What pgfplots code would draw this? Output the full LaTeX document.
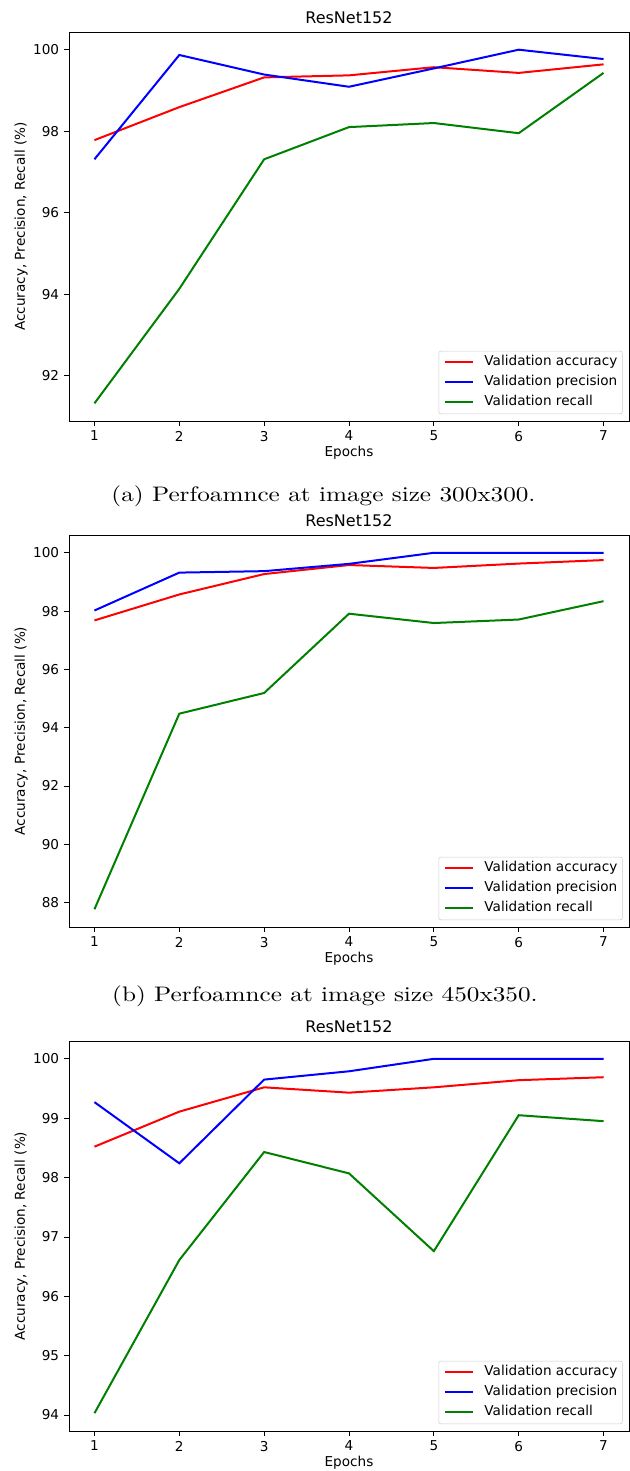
\documentclass[border=0pt]{standalone}
\usepackage{fontspec}
\usepackage{graphicx}
\usepackage{pgfplots}
\pgfplotsset{compat=1.18}
\newfontfamily\plotfont{DejaVu Sans}
\newfontfamily\capfont{lmroman10-regular.otf}

\definecolor{mplred}{RGB}{255,0,0}
\definecolor{mplblue}{RGB}{0,0,255}
\definecolor{mplgreen}{RGB}{0,128,0}

% Validation metrics per epoch, image size 300x300
\pgfplotstableread{
epoch acc   prec  rec
1     97.78 97.31 91.32
2     98.59 99.87 94.13
3     99.32 99.39 97.31
4     99.37 99.09 98.10
5     99.57 99.54 98.20
6     99.43 100.0 97.95
7     99.64 99.77 99.43
}\tabA
% image size 450x350
\pgfplotstableread{
epoch acc   prec  rec
1     97.68 98.02 87.77
2     98.57 99.32 94.48
3     99.27 99.37 95.19
4     99.58 99.62 97.91
5     99.48 100.0 97.59
6     99.63 100.0 97.71
7     99.75 100.0 98.34
}\tabB
% third setting
\pgfplotstableread{
epoch acc   prec  rec
1     98.52 99.27 94.03
2     99.11 98.24 96.61
3     99.52 99.65 98.43
4     99.43 99.79 98.07
5     99.52 100.0 96.76
6     99.64 100.0 99.05
7     99.69 100.0 98.95
}\tabC

\newcommand{\subcaption}[1]{{\capfont\fontsize{15.75}{18}\selectfont\scalebox{1.2}[1]{#1}}}

\pgfplotsset{
  every axis title shift=0pt,
  resnet/.style={
    scale only axis,
    width=420pt,
    xmin=0.7, xmax=7.3,
    xtick={1,...,7},
    axis line style={line width=0.6pt},
    tick align=outside,
    xtick pos=bottom, ytick pos=left,
    major tick length=3.75pt,
    every tick/.style={black, line width=0.6pt},
    /pgf/number format/assume math mode=true,
    tick label style={font=\plotfont\fontsize{10.2}{12}\selectfont},
    xticklabel style={anchor=north, inner sep=0pt, yshift=-3.5pt},
    yticklabel style={anchor=east, inner sep=0pt, xshift=-3.5pt},
    title=ResNet152,
    title style={at={(0.5,1)}, anchor=base, inner sep=0pt, yshift=6.2pt,
      font=\plotfont\fontsize{12}{14}\selectfont},
    xlabel=Epochs,
    xlabel style={at={(axis description cs:0.5,-0.082)}, anchor=center,
      font=\plotfont\fontsize{10.2}{12}\selectfont},
    ylabel={Accuracy, Precision, Recall (\%)},
    ylabel style={at={(axis description cs:-0.0857,0.5)}, anchor=center,
      font=\plotfont\fontsize{10.2}{12}\selectfont},
    legend style={at={(1,0)}, anchor=south east, xshift=-4.8pt, yshift=5.2pt,
      draw=black!20, rounded corners=1.5pt, fill=white,
      inner xsep=3.75pt, inner ysep=3pt, row sep=4pt,
      font=\plotfont\fontsize{10.2}{12}\selectfont,
      nodes={inner sep=0pt, text height=8pt, text depth=3pt}},
    legend cell align=left,
    legend image code/.code={
      \draw[#1] (0pt,0pt) -- (21.5pt,0pt);
      \path (29pt,0pt);
    },
    every axis plot/.append style={line width=1.5pt, mark=none},
  }
}

\begin{document}
\begin{tikzpicture}
% (a)
\begin{axis}[resnet, name=a, at={(51.75pt,-315.75pt)}, anchor=south west,
  height=291.75pt, ymin=90.886, ymax=100.434, ytick={92,94,...,100}]
  \addplot[mplred]   table[x=epoch, y=acc]  {\tabA};
  \addplot[mplblue]  table[x=epoch, y=prec] {\tabA};
  \addplot[mplgreen] table[x=epoch, y=rec]  {\tabA};
  \legend{Validation accuracy, Validation precision, Validation recall}
\end{axis}
\node[anchor=base, inner sep=0pt] at (242.6pt,-376.1pt)
  {\subcaption{(a) Perfoamnce at image size 300x300.}};

% (b)
\begin{axis}[resnet, name=b, at={(51.75pt,-695.25pt)}, anchor=south west,
  height=294pt, ymin=87.16, ymax=100.61, ytick={88,90,...,100}]
  \addplot[mplred]   table[x=epoch, y=acc]  {\tabB};
  \addplot[mplblue]  table[x=epoch, y=prec] {\tabB};
  \addplot[mplgreen] table[x=epoch, y=rec]  {\tabB};
  \legend{Validation accuracy, Validation precision, Validation recall}
\end{axis}
\node[anchor=base, inner sep=0pt] at (243.7pt,-751.1pt)
  {\subcaption{(b) Perfoamnce at image size 450x350.}};

% (c)
\begin{axis}[resnet, name=c, at={(51.75pt,-1073.25pt)}, anchor=south west,
  height=292.5pt, ymin=93.73, ymax=100.30, ytick={94,95,...,100}]
  \addplot[mplred]   table[x=epoch, y=acc]  {\tabC};
  \addplot[mplblue]  table[x=epoch, y=prec] {\tabC};
  \addplot[mplgreen] table[x=epoch, y=rec]  {\tabC};
  \legend{Validation accuracy, Validation precision, Validation recall}
\end{axis}

\pgfresetboundingbox
\useasboundingbox (0pt,0pt) rectangle (472.5pt,-1103.25pt);
\end{tikzpicture}
\end{document}
